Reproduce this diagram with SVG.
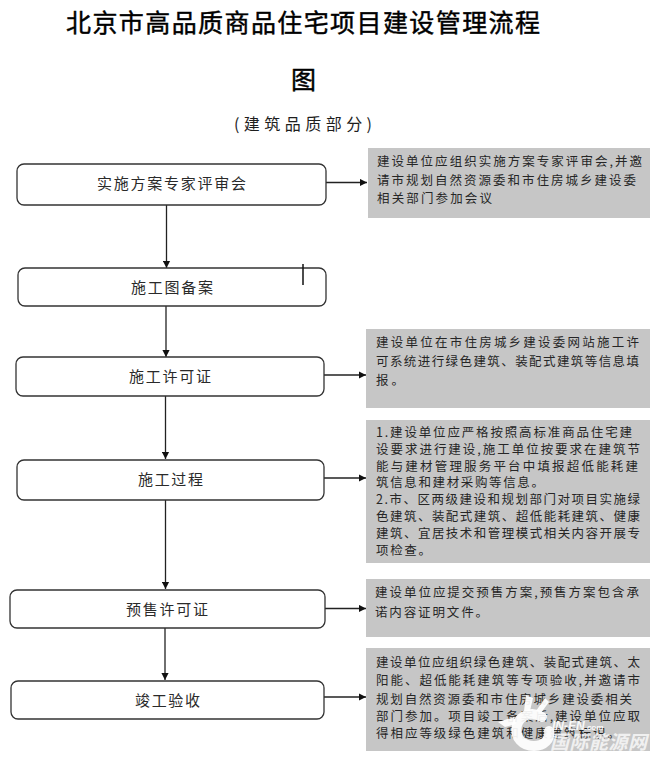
<svg xmlns="http://www.w3.org/2000/svg" width="658" height="759" viewBox="0 0 658 759">
<style>
text{font-family:"Noto Sans CJK SC","Noto Sans",sans-serif;fill:#1e1e1e}
.n rect{fill:#fff;stroke:#333;stroke-width:1.3}
.n text{font-size:15px;fill:#2a2a2a}
.b rect{fill:#c6c6c6}
.b text{font-size:12.5px;fill:#262626}
.c path{fill:none;stroke:#222;stroke-width:1.3;marker-end:url(#a)}
.t{font-size:25px;fill:#000;stroke:#000;stroke-width:.45}
.wm{fill:#fff;stroke:none}
</style>
<defs><marker id="a" markerUnits="userSpaceOnUse" markerWidth="8" markerHeight="8" refX="7" refY="4" orient="auto"><path d="M0 0.4L7 4L0 7.6Z" fill="#111"/></marker></defs>
<rect width="658" height="759" fill="#fff"/>
<g id="title">
<text class="t" x="66" y="32" textLength="474" lengthAdjust="spacing">北京市高品质商品住宅项目建设管理流程</text>
<text class="t" x="291" y="89">图</text>
<text x="234" y="130" font-size="16" textLength="138" lengthAdjust="spacing">(建筑品质部分)</text>
</g>
<g id="connectors" class="c">
<path d="M166.500 205V268"/><path d="M166 306V357"/><path d="M165.500 396V459"/><path d="M165.500 500V589"/><path d="M165 628V680"/>
<path d="M326 182.500H367"/><path d="M324 375H366"/><path d="M324 478H366"/><path d="M325 608.500H366"/><path d="M324 697H366"/>
</g>
<g id="n1" class="n"><rect x="17" y="164" width="309" height="41" rx="7"/><text x="97" y="188.500" textLength="149" lengthAdjust="spacing">实施方案专家评审会</text></g>
<g id="n2" class="n"><rect x="18" y="268" width="308" height="38" rx="7"/><text x="131" y="292.500" textLength="82" lengthAdjust="spacing">施工图备案</text></g>
<g id="n3" class="n"><rect x="16" y="357" width="308" height="39" rx="7"/><text x="129" y="381.500" textLength="82" lengthAdjust="spacing">施工许可证</text></g>
<g id="n4" class="n"><rect x="17" y="460" width="307" height="40" rx="7"/><text x="138" y="484.500" textLength="65" lengthAdjust="spacing">施工过程</text></g>
<g id="n5" class="n"><rect x="10" y="590" width="315" height="38" rx="7"/><text x="126" y="614.500" textLength="82" lengthAdjust="spacing">预售许可证</text></g>
<g id="n6" class="n"><rect x="11" y="681" width="313" height="38" rx="7"/><text x="135" y="705.500" textLength="65" lengthAdjust="spacing">竣工验收</text></g>
<path id="cursor" d="M303 264V285" stroke="#111" stroke-width="1.500" fill="none"/>
<g id="b1" class="b"><rect x="368" y="148" width="282" height="70"/>
<text x="377" y="166" textLength="265" lengthAdjust="spacing">建设单位应组织实施方案专家评审会,并邀</text>
<text x="377" y="185" textLength="259" lengthAdjust="spacing">请市规划自然资源委和市住房城乡建设委</text>
<text x="377" y="203" textLength="115" lengthAdjust="spacing">相关部门参加会议</text></g>
<g id="b2" class="b"><rect x="366" y="329" width="284" height="79"/>
<text x="376" y="347" textLength="263" lengthAdjust="spacing">建设单位在市住房城乡建设委网站施工许</text>
<text x="376" y="366" textLength="263" lengthAdjust="spacing">可系统进行绿色建筑、装配式建筑等信息填</text>
<text x="376" y="385" textLength="28" lengthAdjust="spacing">报。</text></g>
<g id="b3" class="b"><rect x="366" y="420" width="284" height="143"/>
<text x="376" y="437" textLength="256" lengthAdjust="spacing">1.建设单位应严格按照高标准商品住宅建</text>
<text x="376" y="454" textLength="264" lengthAdjust="spacing">设要求进行建设,施工单位按要求在建筑节</text>
<text x="376" y="471" textLength="262" lengthAdjust="spacing">能与建材管理服务平台中填报超低能耗建</text>
<text x="376" y="487" textLength="168" lengthAdjust="spacing">筑信息和建材采购等信息。</text>
<text x="376" y="504" textLength="264" lengthAdjust="spacing">2.市、区两级建设和规划部门对项目实施绿</text>
<text x="376" y="521" textLength="264" lengthAdjust="spacing">色建筑、装配式建筑、超低能耗建筑、健康</text>
<text x="376" y="538" textLength="264" lengthAdjust="spacing">建筑、宜居技术和管理模式相关内容开展专</text>
<text x="376" y="555" textLength="55" lengthAdjust="spacing">项检查。</text></g>
<g id="b4" class="b"><rect x="366" y="579" width="284" height="58"/>
<text x="375" y="597" textLength="264" lengthAdjust="spacing">建设单位应提交预售方案,预售方案包含承</text>
<text x="375" y="617" textLength="113" lengthAdjust="spacing">诺内容证明文件。</text></g>
<g id="b5" class="b"><rect x="366" y="648" width="284" height="103"/>
<text x="376" y="667" textLength="264" lengthAdjust="spacing">建设单位应组织绿色建筑、装配式建筑、太</text>
<text x="376" y="685" textLength="264" lengthAdjust="spacing">阳能、超低能耗建筑等专项验收,并邀请市</text>
<text x="376" y="704" textLength="256" lengthAdjust="spacing">规划自然资源委和市住房城乡建设委相关</text>
<text x="376" y="721" textLength="264" lengthAdjust="spacing">部门参加。项目竣工备案后,建设单位应取</text>
<text x="376" y="738" textLength="244" lengthAdjust="spacing">得相应等级绿色建筑和健康建筑标识。</text></g>
<g id="watermark">
<path d="M542 717C532 711 520 715 517 725C514 738 523 746 534 746C544 746 551 739 549 731" fill="none" stroke="#fff" stroke-width="10" stroke-linecap="round" opacity=".92"/>
<path class="wm" d="M514 717L498 722L505 727L516 724Z M524 711L526 695L533 698L530 711Z M536 711L545 698L549 702L541 713Z" opacity=".92"/>
<text x="552" y="730" font-size="12" font-weight="700" font-style="italic" opacity=".9" style="fill:#fff;font-family:'Liberation Sans',sans-serif">IN-EN<tspan font-size="8">.com</tspan></text>
<text x="550" y="749" font-size="19" font-weight="700" font-style="italic" textLength="97" lengthAdjust="spacing" opacity=".75" style="fill:#fff">国际能源网</text>
</g>
</svg>
